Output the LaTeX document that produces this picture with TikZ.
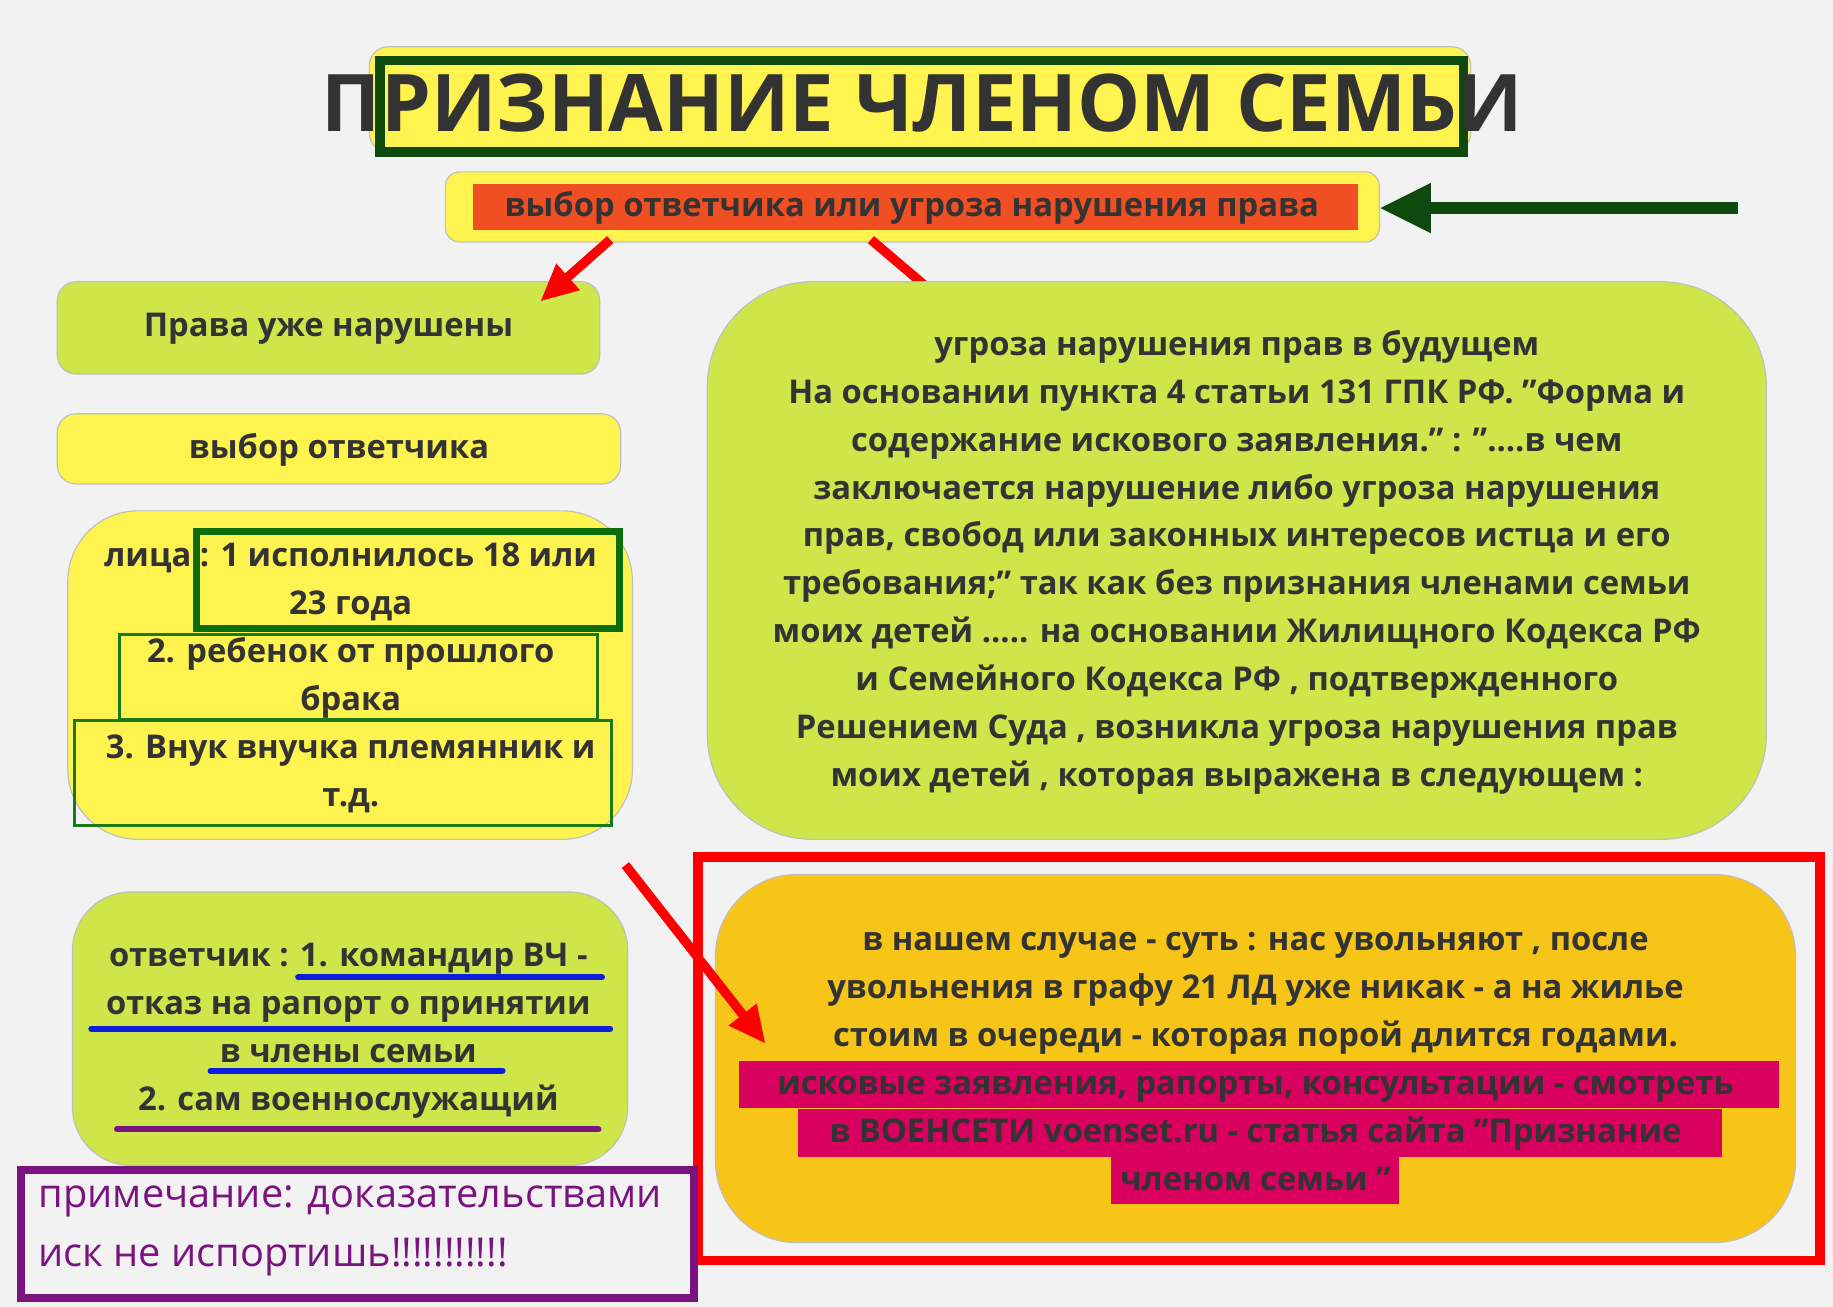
\documentclass[tikz,border=0pt]{standalone}
\usepackage{fontspec}
\setmainfont{Open Sans}
\usetikzlibrary{arrows.meta}
\definecolor{bg}{HTML}{F2F2F2}
\definecolor{yel}{HTML}{FFF44F}
\definecolor{lime}{HTML}{CFE64A}
\definecolor{orng}{HTML}{F7C518}
\definecolor{dgreen}{HTML}{0E4A0E}
\definecolor{mgreen}{HTML}{1A7A1A}
\definecolor{txt}{HTML}{333333}
\definecolor{hlred}{HTML}{F04E23}
\definecolor{hlmag}{HTML}{D9005F}
\definecolor{purp}{HTML}{7A1380}
\definecolor{ublue}{HTML}{0A1EDC}
\tikzset{
  body/.style={font=\bfseries\fontsize{14}{20.5}\selectfont, text=txt, align=center},
  redarrow/.style={red, line width=4pt, -{Triangle[length=16pt,width=14pt]}},
  thinbox/.style={draw=black!25, line width=0.5pt}
}
\begin{document}
\begin{tikzpicture}[x=0.5pt,y=-0.5pt]
\fill[bg] (0,0) rectangle (1568,1118);
\useasboundingbox (0,0) rectangle (1568,1118);
% title
\filldraw[fill=yel, thinbox, rounded corners=8pt] (316,40) rectangle (1258,130);
\draw[dgreen, line width=4pt] (325,52) rectangle (1252,130);
\node[font=\bfseries\fontsize{34}{40}\selectfont, text=txt] (title) at (789,88) {ПРИЗНАНИЕ ЧЛЕНОМ СЕМЬИ};
% subtitle
\filldraw[fill=yel, thinbox, rounded corners=6pt] (381,147) rectangle (1180,207);
\fill[hlred] (405,157) rectangle (1162,197);
\node[body] (sub) at (780,178) {выбор ответчика или угроза нарушения права};
\coordinate (ga) at (1487,178);
\coordinate (subr) at (1180,178);
\draw[dgreen, line width=5pt, -{Triangle[length=22pt,width=20pt]}] (ga) -- (subr);
% left boxes
\filldraw[fill=lime, thinbox, rounded corners=8pt] (49,241) rectangle (513,320);
\node[body] (b1) at (281,281) {Права уже нарушены};
\filldraw[fill=yel, thinbox, rounded corners=8pt] (49,354) rectangle (531,414);
\node[body] (b2) at (290,385) {выбор ответчика};
\filldraw[fill=yel, thinbox, rounded corners=30pt] (58,437) rectangle (541,718);
\draw[dgreen!80!green, line width=3pt] (168,455) rectangle (530,538);
\draw[mgreen, line width=1.2pt] (102,543) rectangle (511,615);
\draw[mgreen, line width=1.2pt] (64,616) rectangle (523,706);
\node[body] (b3) at (300,580) {лица : 1 исполнилось 18 или\\23 года\\2. ребенок от прошлого\\брака\\3. Внук внучка племянник и\\т.д.};
% arrows from subtitle
\coordinate (a1s) at (522,205); \coordinate (a1e) at (462,258);
\coordinate (a2s) at (745,205); \coordinate (a2e) at (825,273);
\draw[redarrow] (a1s) -- (a1e);
\draw[redarrow] (a2s) -- (a2e);
% big green
\filldraw[fill=lime, thinbox, rounded corners=45pt] (605,241) rectangle (1511,718);
\node[body] (big) at (1058,481) {угроза нарушения прав в будущем\\ На основании пункта 4 статьи 131 ГПК РФ. "Форма и\\содержание искового заявления." : "....в чем\\заключается нарушение либо угроза нарушения\\прав, свобод или законных интересов истца и его\\требования;" так как без признания членами семьи\\моих детей ..... на основании Жилищного Кодекса РФ\\и Семейного Кодекса РФ , подтвержденного\\Решением Суда , возникла угроза нарушения прав\\моих детей , которая выражена в следующем :};
% red frame & orange
\draw[red, line width=4pt] (597,733) rectangle (1557,1078);
\filldraw[fill=orng, thinbox, rounded corners=35pt] (612,748) rectangle (1536,1063);
\fill[hlmag] (632,908) rectangle (1522,948);
\fill[hlmag] (683,949) rectangle (1473,990);
\fill[hlmag] (950,990) rectangle (1197,1030);
\node[body] (orn) at (1074,908) {в нашем случае - суть : нас увольняют , после\\увольнения в графу 21 ЛД уже никак - а на жилье\\стоим в очереди - которая порой длится годами.\\исковые заявления, рапорты, консультации - смотреть\\в ВОЕНСЕТИ voenset.ru - статья сайта "Признание\\членом семьи "};
\coordinate (a3s) at (535,740); \coordinate (a3e) at (655,893);
\draw[redarrow] (a3s) -- (a3e);
% defendant box
\filldraw[fill=lime, thinbox, rounded corners=25pt] (62,763) rectangle (537,997);
\draw[ublue, line width=2.5pt, line cap=round] (255,836) -- (515,836);
\draw[ublue, line width=2.5pt, line cap=round] (78,880) -- (522,880);
\draw[ublue, line width=2.5pt, line cap=round] (180,916) -- (430,916);
\draw[purp, line width=2.5pt, line cap=round] (100,966) -- (512,966);
\node[body] (def) at (298,882) {ответчик : 1. командир ВЧ -\\отказ на рапорт о принятии\\в члены семьи\\2. сам военнослужащий};
% note
\draw[purp, line width=3.5pt] (18,1001) rectangle (594,1110);
\node[font=\fontsize{17}{25}\selectfont, text=purp, align=left, anchor=west] (note) at (26,1053) {примечание: доказательствами\\иск не испортишь!!!!!!!!!!!};
\end{tikzpicture}
\end{document}
